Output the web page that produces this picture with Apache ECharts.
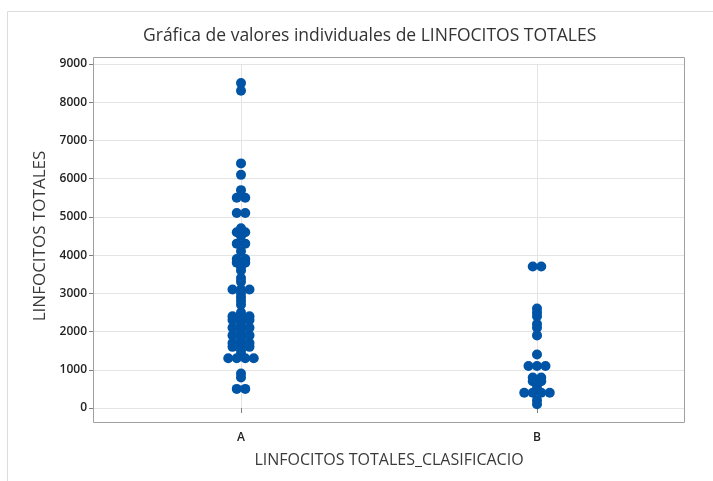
<!DOCTYPE html>
<html>
<head>
<meta charset="utf-8">
<script src="https://cdn.jsdelivr.net/npm/echarts@6/dist/echarts.min.js"></script>
<style>
  html, body { margin: 0; padding: 0; background: #fff; }
  #main { width: 713px; height: 481px; }
</style>
</head>
<body>
<div id="main"></div>
<script>
// categorias y valores individuales
const categories = ['A', 'B'];
const valuesA = [8500, 8300, 6400, 6100, 5700, 5500, 5500, 5100, 5100, 4700, 4600, 4600, 4500,
  4300, 4300, 4100, 3900, 3900, 3800, 3800, 3700, 3600, 3400, 3300, 3100, 3100, 3100,
  3000, 2900, 2800, 2700, 2500, 2400, 2400, 2400, 2300, 2300, 2300, 2200, 2100, 2100, 2100,
  2000, 1900, 1900, 1900, 1800, 1700, 1700, 1700, 1600, 1600, 1600, 1500, 1400,
  1300, 1300, 1300, 1300, 900, 800, 500, 500];
const valuesB = [3700, 3700, 2600, 2500, 2400, 2200, 2100, 1900, 1400, 1100, 1100, 1100,
  800, 800, 700, 700, 600, 500, 400, 400, 400, 400, 200, 100];
const yMin = 0, yMax = 9000, yStep = 1000;

const dotGap = 8.5; // separacion horizontal de puntos repetidos

// puntos iguales se ponen lado a lado, centrados en la categoria
function stackDots(cat, vals) {
  const counts = {};
  vals.forEach(v => { counts[v] = (counts[v] || 0) + 1; });
  const seen = {};
  return vals.map(v => {
    const i = seen[v] = (seen[v] === undefined ? 0 : seen[v] + 1);
    return { value: [cat, v], symbolOffset: [(i - (counts[v] - 1) / 2) * dotGap, 0] };
  });
}

const chart = echarts.init(document.getElementById('main'));
const option = {
  animation: false,
  title: {
    text: 'Gráfica de valores individuales de LINFOCITOS TOTALES',
    left: 138,
    top: 22,
    textStyle: { fontFamily: 'Open Sans', fontSize: 17.5, fontWeight: 500, color: '#333' }
  },
  grid: { left: 93, right: 28, top: 64, bottom: 73 },
  graphic: [
    { type: 'rect', shape: { x: 7.5, y: 11.5, width: 720, height: 480 },
      style: { fill: 'none', stroke: '#dcdcdc', lineWidth: 1 }, silent: true, z: -1 },
    { type: 'rect', shape: { x: 93.5, y: 57.5, width: 591, height: 365 },
      style: { fill: 'none', stroke: '#a0a0a0', lineWidth: 1 }, silent: true, z: 5 }
  ],
  xAxis: {
    type: 'category',
    data: categories,
    offset: 15,
    name: 'LINFOCITOS TOTALES_CLASIFICACIO',
    nameLocation: 'middle',
    nameGap: 29,
    nameTextStyle: { fontFamily: 'Open Sans', fontSize: 16, color: '#3a3a3a' },
    axisLine: { show: false },
    axisTick: { show: true, alignWithLabel: true, length: 5, lineStyle: { color: '#808080' } },
    axisLabel: { margin: 9, fontFamily: 'Open Sans', fontSize: 12, fontWeight: 600, color: '#222' },
    splitLine: { show: true, alignWithLabel: true, lineStyle: { color: '#e4e4e4' } }
  },
  yAxis: {
    type: 'value',
    min: yMin,
    max: yMax,
    interval: yStep,
    name: 'LINFOCITOS TOTALES',
    nameLocation: 'middle',
    nameGap: 37,
    nameTextStyle: { fontFamily: 'Open Sans', fontSize: 17, color: '#3a3a3a' },
    axisLine: { show: false },
    axisTick: { show: true, length: 4, lineStyle: { color: '#808080' } },
    axisLabel: { margin: 6, fontFamily: 'Open Sans', fontSize: 12, fontWeight: 600, color: '#222',
      formatter: v => String(v) },
    splitLine: { show: true, lineStyle: { color: '#e4e4e4' } }
  },
  series: [
    {
      type: 'scatter',
      clip: false,
      symbolSize: 10,
      itemStyle: { color: '#0054a6', opacity: 1 },
      data: stackDots('A', valuesA).concat(stackDots('B', valuesB))
    }
  ]
};
chart.setOption(option);
</script>
</body>
</html>
